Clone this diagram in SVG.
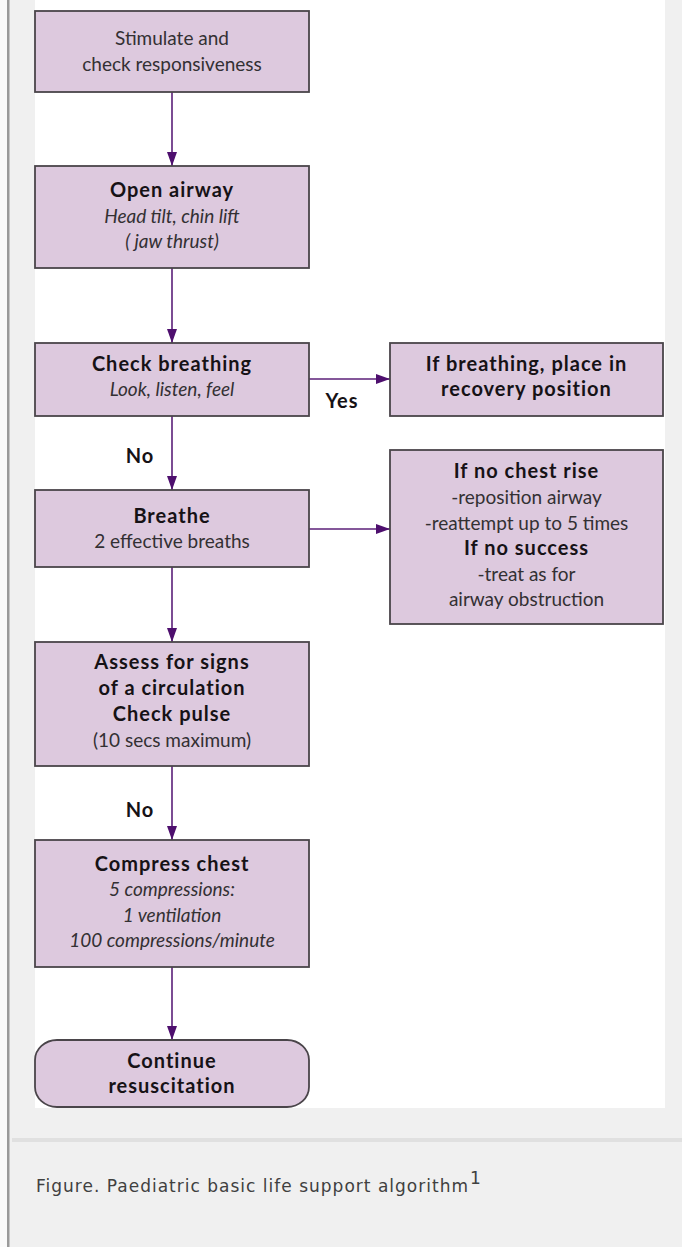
<svg xmlns="http://www.w3.org/2000/svg" width="682" height="1247" viewBox="0 0 682 1247">
<defs>
<style>
.box{fill:#ddc9de;stroke:#4a454a;stroke-width:1.8}
.t{font-family:Lato,"Open Sans","Liberation Sans",sans-serif;font-size:19px;fill:#1e1a1e;text-anchor:middle}
.r{fill:#333033}
.b{font-weight:bold;fill:#161216;font-size:20px;letter-spacing:1px}
.i{font-style:italic;fill:#333033}
.c{stroke:#5b1f78;stroke-width:1.6;fill:none}
.cap{font-family:"DejaVu Sans","Liberation Sans",sans-serif;font-size:17px;fill:#404040}
</style>
<marker id="ah" markerWidth="14" markerHeight="10" refX="14" refY="5" orient="auto" markerUnits="userSpaceOnUse">
<path d="M0,0 L14,5 L0,10 Z" fill="#4e0f6e"/>
</marker>
</defs>
<rect x="0" y="0" width="682" height="1247" fill="#f0f0f0"/>
<rect x="0" y="0" width="7" height="1247" fill="#fafafa"/>
<rect x="7" y="0" width="2.5" height="1247" fill="#9a9a9a"/>
<rect x="35" y="0" width="630" height="1108" fill="#ffffff"/>
<rect x="12" y="1138" width="670" height="4" fill="#e0e0e0"/>

<g id="connectors">
<line class="c" x1="172" y1="92" x2="172" y2="166" marker-end="url(#ah)"/>
<line class="c" x1="172" y1="268" x2="172" y2="343" marker-end="url(#ah)"/>
<line class="c" x1="309" y1="379" x2="390" y2="379" marker-end="url(#ah)"/>
<line class="c" x1="172" y1="416" x2="172" y2="490" marker-end="url(#ah)"/>
<line class="c" x1="309" y1="529" x2="390" y2="529" marker-end="url(#ah)"/>
<line class="c" x1="172" y1="567" x2="172" y2="642" marker-end="url(#ah)"/>
<line class="c" x1="172" y1="766" x2="172" y2="840" marker-end="url(#ah)"/>
<line class="c" x1="172" y1="967" x2="172" y2="1040" marker-end="url(#ah)"/>
<text class="t b" x="342" y="408">Yes</text>
<text class="t b" x="140" y="463">No</text>
<text class="t b" x="140" y="817">No</text>
</g>

<g id="stimulate">
<rect class="box" x="35" y="11" width="274" height="81"/>
<text class="t r" x="172" y="45">Stimulate and</text>
<text class="t r" x="172" y="71">check responsiveness</text>
</g>

<g id="open-airway">
<rect class="box" x="35" y="166" width="274" height="102"/>
<text class="t b" x="172" y="197">Open airway</text>
<text class="t i" x="172" y="223">Head tilt, chin lift</text>
<text class="t i" x="172" y="248">( jaw thrust)</text>
</g>

<g id="check-breathing">
<rect class="box" x="35" y="343" width="274" height="73"/>
<text class="t b" x="172" y="371">Check breathing</text>
<text class="t i" x="172" y="396">Look, listen, feel</text>
</g>

<g id="recovery">
<rect class="box" x="390" y="343" width="273" height="73"/>
<text class="t b" x="526.5" y="371">If breathing, place in</text>
<text class="t b" x="526.5" y="396">recovery position</text>
</g>

<g id="breathe">
<rect class="box" x="35" y="490" width="274" height="77"/>
<text class="t b" x="172" y="523">Breathe</text>
<text class="t r" x="172" y="548">2 effective breaths</text>
</g>

<g id="no-chest-rise">
<rect class="box" x="390" y="450" width="273" height="174"/>
<text class="t b" x="526.5" y="478">If no chest rise</text>
<text class="t r" x="526.5" y="504">-reposition airway</text>
<text class="t r" x="526.5" y="530">-reattempt up to 5 times</text>
<text class="t b" x="526.5" y="555">If no success</text>
<text class="t r" x="526.5" y="581">-treat as for</text>
<text class="t r" x="526.5" y="606">airway obstruction</text>
</g>

<g id="assess">
<rect class="box" x="35" y="642" width="274" height="124"/>
<text class="t b" x="172" y="669">Assess for signs</text>
<text class="t b" x="172" y="695">of a circulation</text>
<text class="t b" x="172" y="721">Check pulse</text>
<text class="t r" x="172" y="747">(10 secs maximum)</text>
</g>

<g id="compress">
<rect class="box" x="35" y="840" width="274" height="127"/>
<text class="t b" x="172" y="871">Compress chest</text>
<text class="t i" x="172" y="896">5 compressions:</text>
<text class="t i" x="172" y="922">1 ventilation</text>
<text class="t i" x="172" y="947">100 compressions/minute</text>
</g>

<g id="continue">
<rect class="box" x="35" y="1040" width="274" height="67" rx="22" ry="20"/>
<text class="t b" x="172" y="1068">Continue</text>
<text class="t b" x="172" y="1093">resuscitation</text>
</g>

<g id="caption">
<text class="cap" x="36" y="1192" textLength="432" lengthAdjust="spacing">Figure. Paediatric basic life support algorithm</text>
<text class="cap" x="470" y="1184" font-size="12">1</text>
</g>
</svg>
